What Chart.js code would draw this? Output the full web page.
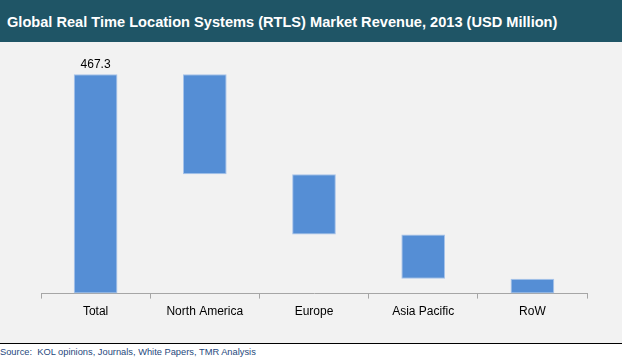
<!DOCTYPE html>
<html>
<head>
<meta charset="utf-8">
<script src="https://cdn.jsdelivr.net/npm/chart.js@4.4.1/dist/chart.umd.min.js"></script>
<style>
    html, body { margin: 0; padding: 0; background: #ffffff; }
    body { width: 622px; height: 360px; overflow: hidden; position: relative; font-family: "Liberation Sans", Arial, sans-serif; }
    .title-bar { position: absolute; left: 0; top: 0; width: 622px; height: 42px; background: #1f5566; }
    .title-bar span { position: absolute; left: 7px; top: 13px; color: #ffffff; font-weight: bold; font-size: 14.6px; line-height: 18px; white-space: nowrap; }
    .plot-box { position: absolute; left: 0; top: 42px; width: 622px; height: 301px; background: #f2f2f2; border-bottom: 1px solid #000000; }
    .source { position: absolute; left: 0; top: 346px; font-size: 9.3px; line-height: 12px; color: #1f497d; white-space: nowrap; }
</style>
</head>
<body>
<div class="title-bar"><span>Global Real Time Location Systems (RTLS) Market Revenue, 2013 (USD Million)</span></div>
<div class="plot-box"><canvas id="chart-rtls" width="622" height="301"></canvas></div>
<div class="source">Source:&nbsp; KOL opinions, Journals, White Papers, TMR Analysis</div>

<script>
const categories = ["Total", "North America", "Europe", "Asia Pacific", "RoW"];
const revenue = [467.3, 212.8, 128.4, 94.4, 31.7];
const labelTotal = "467.3";

// waterfall: total from 0, then each region hangs below the previous one
var ranges = [];
var level = revenue[0];
ranges.push([0, revenue[0]]);
for (var i = 1; i < revenue.length; i++) {
    ranges.push([level - revenue[i], level]);
    level = level - revenue[i];
}

const totalLabelPlugin = {
    id: 'totalLabel',
    afterDatasetsDraw(chart) {
        var ctx = chart.ctx;
        var x = chart.scales.x.getPixelForValue(0);
        var y = chart.scales.y.getPixelForValue(revenue[0]);
        ctx.save();
        ctx.fillStyle = '#000000';
        ctx.font = '12px "Liberation Sans", Arial, sans-serif';
        ctx.textAlign = 'center';
        ctx.textBaseline = 'bottom';
        ctx.fillText(labelTotal, x, y - 4);
        ctx.restore();
    }
};

new Chart(document.getElementById("chart-rtls"), {
    type: 'bar',
    data: {
        labels: categories,
        datasets: [{
            data: ranges,
            backgroundColor: '#558ed5',
            borderColor: '#a7c3ea',
            borderWidth: 1,
            borderSkipped: false,
            barPercentage: 0.4,
            categoryPercentage: 1
        }]
    },
    options: {
        responsive: false,
        maintainAspectRatio: false,
        animation: false,
        layout: { padding: { top: 17, left: 41, right: 35, bottom: 18 } },
        plugins: {
            legend: { display: false },
            tooltip: { enabled: false }
        },
        scales: {
            x: {
                grid: {
                    offset: true,
                    drawOnChartArea: false,
                    drawTicks: true,
                    tickLength: 5,
                    color: '#a6a6a6'
                },
                border: { display: true, color: '#a6a6a6', width: 1 },
                ticks: {
                    color: '#000000',
                    padding: 6,
                    font: { family: '"Liberation Sans", Arial, sans-serif', size: 12 }
                }
            },
            y: {
                display: false,
                min: 0,
                max: 500
            }
        }
    },
    plugins: [totalLabelPlugin]
});
</script>
</body>
</html>
